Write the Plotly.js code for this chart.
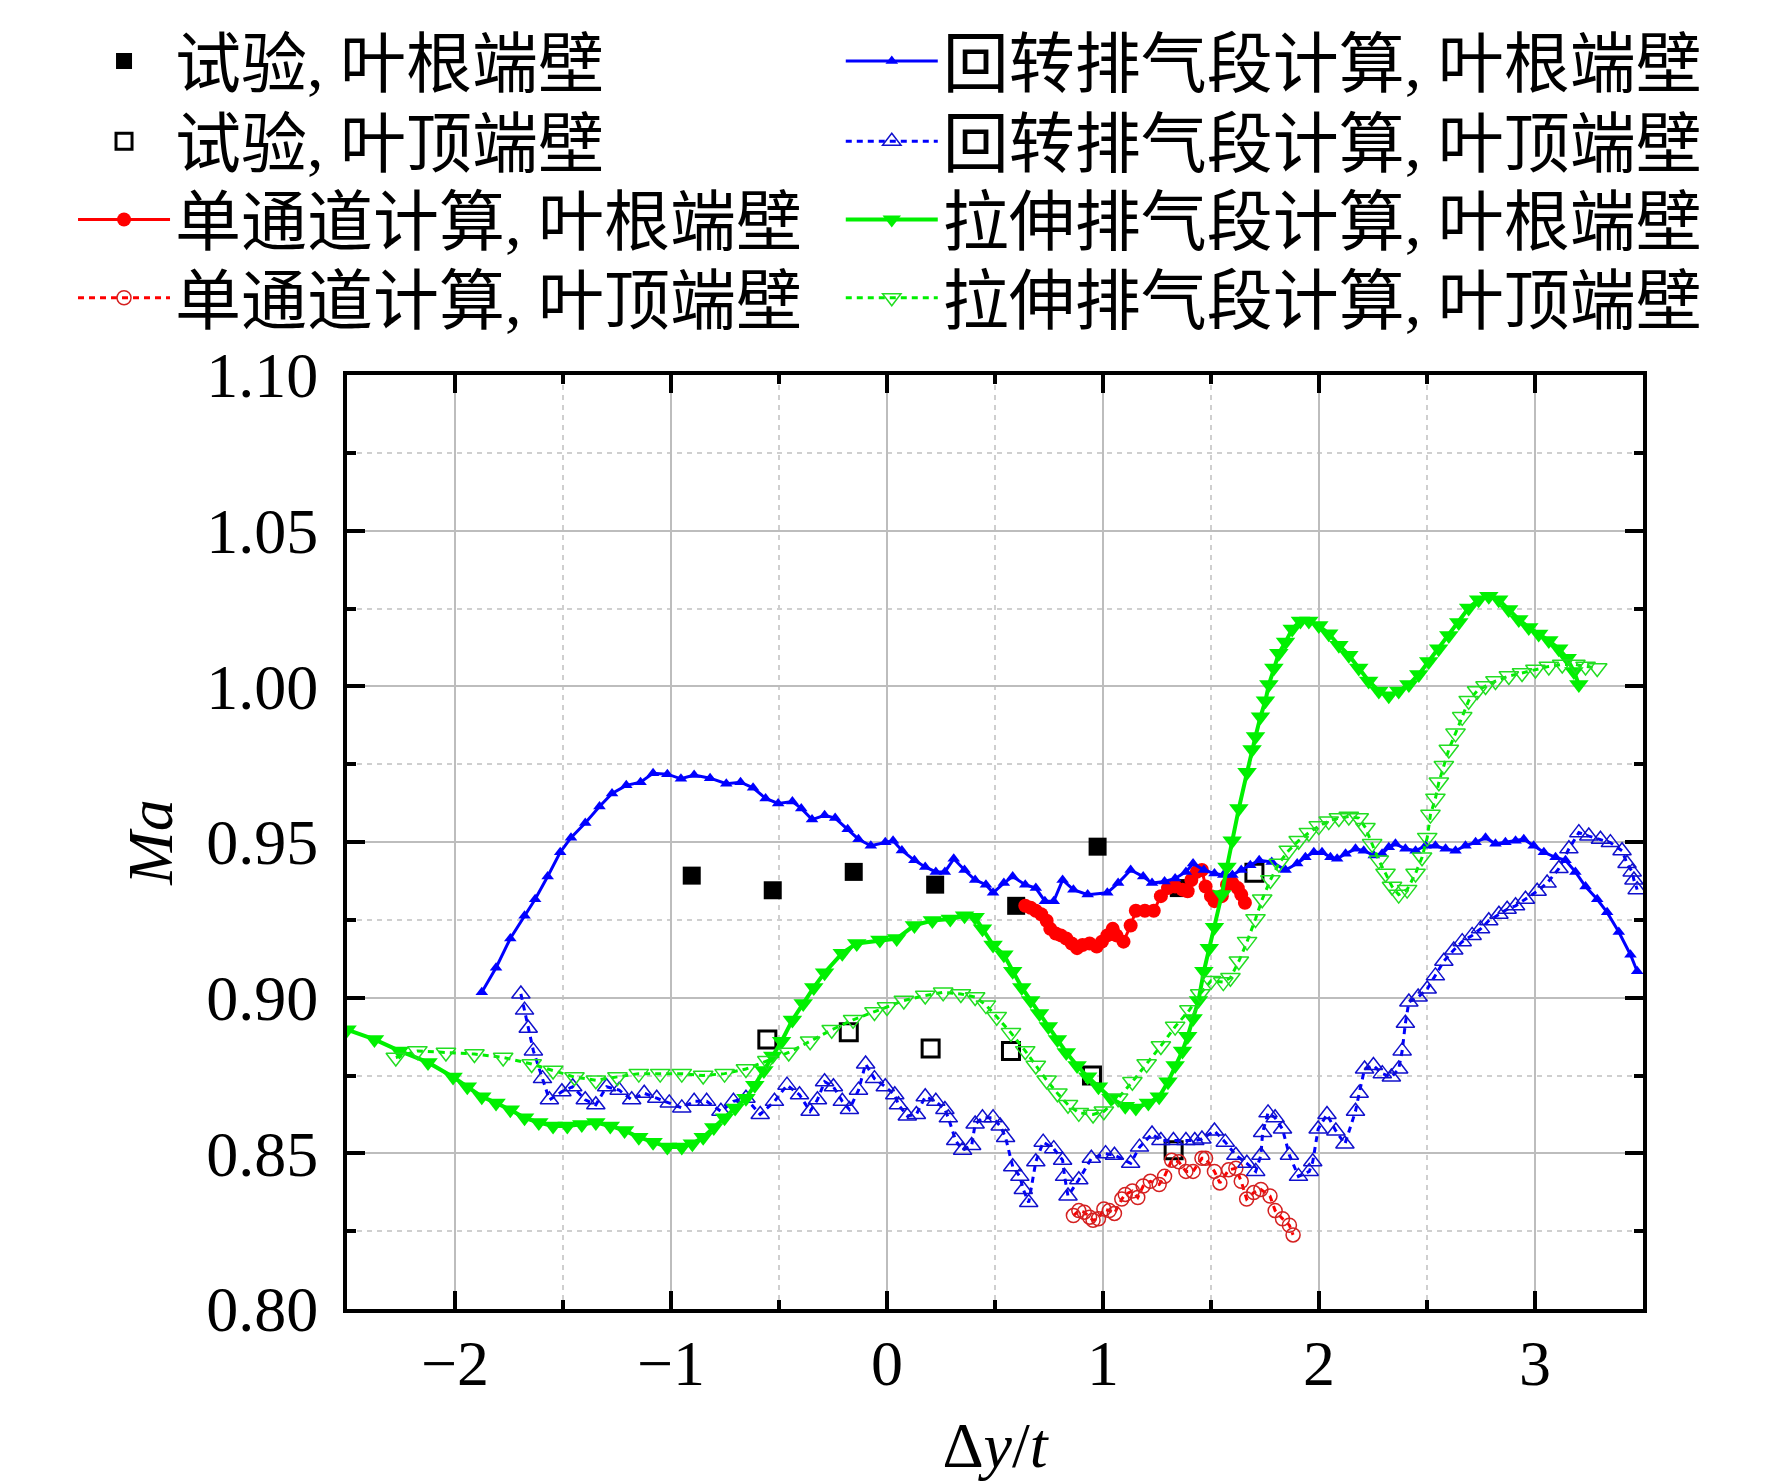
<!DOCTYPE html>
<html>
<head>
<meta charset="utf-8">
<script src="https://cdn.plot.ly/plotly-3.0.1.min.js"></script>
<style>
  html, body { margin: 0; padding: 0; background: #fff; }
  #chart { width: 1772px; height: 1481px; }
</style>
</head>
<body>
<div id="chart"></div>
<script>
// 试验数据
const expRootX = [-0.904, -0.529, -0.154, 0.223, 0.598, 0.975, 1.351];
const expRootY = [0.9392, 0.9345, 0.9404, 0.9363, 0.9295, 0.9485, 0.9352];
const expTipX = [-0.554, -0.177, 0.202, 0.574, 0.949, 1.327, 1.701];
const expTipY = [0.8866, 0.8889, 0.8837, 0.8829, 0.8750, 0.8510, 0.9401];

// 单通道计算
const singleRootX = [0.640, 0.665, 0.689, 0.714, 0.739, 0.756, 0.781, 0.805, 0.830, 0.855,
  0.880, 0.905, 0.938, 0.971, 0.995, 1.020, 1.045, 1.062, 1.095, 1.128,
  1.152, 1.194, 1.235, 1.268, 1.301, 1.334, 1.368, 1.392, 1.409, 1.434,
  1.458, 1.475, 1.500, 1.516, 1.550, 1.574, 1.599, 1.624, 1.640, 1.657];
const singleRootY = [0.9295, 0.9289, 0.9279, 0.9268, 0.9247, 0.9221, 0.9206, 0.9200, 0.9190, 0.9174,
  0.9159, 0.9169, 0.9174, 0.9164, 0.9180, 0.9200, 0.9221, 0.9200, 0.9180, 0.9232,
  0.9279, 0.9279, 0.9279, 0.9326, 0.9352, 0.9357, 0.9347, 0.9342, 0.9378, 0.9404,
  0.9410, 0.9357, 0.9326, 0.9310, 0.9326, 0.9363, 0.9368, 0.9352, 0.9331, 0.9305];
const singleTipX = [0.863, 0.888, 0.913, 0.938, 0.954, 0.979, 1.004, 1.029, 1.053, 1.087,
  1.103, 1.136, 1.161, 1.186, 1.219, 1.260, 1.285, 1.318, 1.351, 1.384,
  1.417, 1.458, 1.475, 1.516, 1.541, 1.582, 1.615, 1.640, 1.665, 1.698,
  1.731, 1.773, 1.797, 1.831, 1.863, 1.880];
const singleTipY = [0.8300, 0.8316, 0.8311, 0.8295, 0.8285, 0.8290, 0.8321, 0.8316, 0.8307, 0.8353,
  0.8368, 0.8379, 0.8358, 0.8395, 0.8410, 0.8400, 0.8426, 0.8478, 0.8473, 0.8442,
  0.8442, 0.8484, 0.8484, 0.8442, 0.8405, 0.8447, 0.8452, 0.8410, 0.8353, 0.8374,
  0.8384, 0.8363, 0.8316, 0.8290, 0.8269, 0.8238];

// 回转排气段计算
const rotRootX = [-1.876, -1.810, -1.744, -1.678, -1.629, -1.571, -1.513, -1.463, -1.397, -1.331,
  -1.273, -1.207, -1.141, -1.083, -1.017, -0.954, -0.893, -0.819, -0.744, -0.678,
  -0.620, -0.562, -0.504, -0.438, -0.397, -0.347, -0.289, -0.240, -0.182, -0.132,
  -0.075, -0.008, 0.028, 0.069, 0.127, 0.177, 0.226, 0.268, 0.309, 0.359,
  0.408, 0.458, 0.491, 0.541, 0.582, 0.640, 0.689, 0.731, 0.772, 0.813,
  0.863, 0.929, 1.020, 1.070, 1.128, 1.186, 1.227, 1.285, 1.334, 1.384,
  1.417, 1.467, 1.516, 1.557, 1.599, 1.640, 1.682, 1.723, 1.781, 1.845,
  1.899, 1.937, 1.976, 2.014, 2.053, 2.084, 2.123, 2.169, 2.207, 2.254,
  2.292, 2.323, 2.354, 2.400, 2.447, 2.493, 2.539, 2.586, 2.632, 2.678,
  2.725, 2.771, 2.817, 2.863, 2.910, 2.948, 2.994, 3.041, 3.095, 3.141,
  3.187, 3.234, 3.288, 3.334, 3.388, 3.442, 3.473];
const rotRootY = [0.9017, 0.9096, 0.9190, 0.9263, 0.9316, 0.9389, 0.9467, 0.9514, 0.9561, 0.9614,
  0.9656, 0.9682, 0.9692, 0.9721, 0.9718, 0.9703, 0.9715, 0.9705, 0.9687, 0.9692,
  0.9674, 0.9640, 0.9624, 0.9630, 0.9608, 0.9572, 0.9586, 0.9577, 0.9541, 0.9509,
  0.9488, 0.9499, 0.9504, 0.9473, 0.9441, 0.9420, 0.9404, 0.9404, 0.9446, 0.9410,
  0.9378, 0.9363, 0.9337, 0.9368, 0.9389, 0.9363, 0.9352, 0.9310, 0.9310, 0.9378,
  0.9347, 0.9331, 0.9337, 0.9368, 0.9410, 0.9389, 0.9368, 0.9373, 0.9383, 0.9404,
  0.9431, 0.9410, 0.9399, 0.9394, 0.9394, 0.9410, 0.9425, 0.9441, 0.9436, 0.9410,
  0.9431, 0.9451, 0.9467, 0.9467, 0.9451, 0.9446, 0.9462, 0.9478, 0.9472, 0.9457,
  0.9462, 0.9483, 0.9494, 0.9478, 0.9472, 0.9488, 0.9488, 0.9478, 0.9472, 0.9488,
  0.9499, 0.9514, 0.9494, 0.9499, 0.9504, 0.9509, 0.9488, 0.9467, 0.9451, 0.9441,
  0.9404, 0.9357, 0.9316, 0.9274, 0.9211, 0.9138, 0.9085];
const rotTipX = [-1.695, -1.678, -1.661, -1.637, -1.595, -1.563, -1.505, -1.455, -1.397, -1.348,
  -1.298, -1.240, -1.182, -1.124, -1.066, -1.008, -0.950, -0.893, -0.835, -0.769,
  -0.711, -0.653, -0.587, -0.521, -0.463, -0.405, -0.356, -0.322, -0.289, -0.248,
  -0.207, -0.174, -0.132, -0.099, -0.058, -0.008, 0.036, 0.053, 0.094, 0.136,
  0.177, 0.226, 0.268, 0.284, 0.318, 0.350, 0.392, 0.408, 0.442, 0.491,
  0.524, 0.549, 0.582, 0.615, 0.631, 0.656, 0.689, 0.723, 0.772, 0.813,
  0.822, 0.838, 0.888, 0.946, 1.012, 1.053, 1.128, 1.169, 1.227, 1.268,
  1.326, 1.384, 1.425, 1.458, 1.516, 1.566, 1.615, 1.666, 1.707, 1.731,
  1.739, 1.764, 1.797, 1.831, 1.863, 1.905, 1.955, 1.971, 1.996, 2.037,
  2.078, 2.120, 2.169, 2.186, 2.211, 2.252, 2.293, 2.335, 2.369, 2.385,
  2.400, 2.416, 2.459, 2.501, 2.539, 2.578, 2.624, 2.663, 2.709, 2.748,
  2.786, 2.833, 2.871, 2.910, 2.956, 3.010, 3.056, 3.111, 3.157, 3.203,
  3.249, 3.303, 3.349, 3.403, 3.426, 3.450, 3.458, 3.473];
const rotTipY = [0.9012, 0.8960, 0.8902, 0.8829, 0.8740, 0.8672, 0.8698, 0.8714, 0.8672, 0.8656,
  0.8714, 0.8703, 0.8672, 0.8693, 0.8677, 0.8662, 0.8646, 0.8667, 0.8667, 0.8635,
  0.8667, 0.8677, 0.8625, 0.8667, 0.8719, 0.8688, 0.8635, 0.8672, 0.8730, 0.8714,
  0.8667, 0.8641, 0.8703, 0.8787, 0.8740, 0.8714, 0.8688, 0.8656, 0.8620, 0.8625,
  0.8682, 0.8667, 0.8641, 0.8614, 0.8541, 0.8510, 0.8525, 0.8594, 0.8614, 0.8614,
  0.8588, 0.8551, 0.8457, 0.8426, 0.8384, 0.8342, 0.8473, 0.8536, 0.8515, 0.8478,
  0.8426, 0.8363, 0.8415, 0.8484, 0.8499, 0.8494, 0.8468, 0.8520, 0.8562, 0.8541,
  0.8541, 0.8541, 0.8541, 0.8546, 0.8572, 0.8536, 0.8494, 0.8468, 0.8442, 0.8494,
  0.8567, 0.8630, 0.8614, 0.8578, 0.8494, 0.8426, 0.8442, 0.8473, 0.8578, 0.8625,
  0.8572, 0.8530, 0.8635, 0.8693, 0.8771, 0.8782, 0.8756, 0.8745, 0.8771, 0.8829,
  0.8918, 0.8986, 0.9002, 0.9028, 0.9070, 0.9117, 0.9153, 0.9180, 0.9200, 0.9221,
  0.9247, 0.9268, 0.9284, 0.9295, 0.9316, 0.9342, 0.9368, 0.9415, 0.9478, 0.9530,
  0.9519, 0.9509, 0.9498, 0.9472, 0.9431, 0.9404, 0.9378, 0.9347];

// 拉伸排气段计算
const strRootX = [-2.500, -2.373, -2.257, -2.125, -2.009, -1.943, -1.876, -1.810, -1.744, -1.678,
  -1.612, -1.546, -1.480, -1.413, -1.348, -1.281, -1.215, -1.149, -1.083, -1.017,
  -0.950, -0.901, -0.851, -0.802, -0.752, -0.703, -0.653, -0.612, -0.570, -0.529,
  -0.488, -0.438, -0.388, -0.339, -0.289, -0.207, -0.140, -0.033, 0.045, 0.127,
  0.210, 0.293, 0.359, 0.408, 0.442, 0.491, 0.541, 0.582, 0.624, 0.665,
  0.706, 0.747, 0.789, 0.830, 0.880, 0.929, 0.979, 1.037, 1.103, 1.152,
  1.210, 1.260, 1.301, 1.334, 1.368, 1.392, 1.417, 1.442, 1.467, 1.492,
  1.516, 1.550, 1.574, 1.598, 1.629, 1.667, 1.690, 1.706, 1.729, 1.752,
  1.768, 1.791, 1.814, 1.845, 1.876, 1.914, 1.953, 1.999, 2.045, 2.092,
  2.138, 2.184, 2.230, 2.277, 2.323, 2.369, 2.416, 2.462, 2.508, 2.554,
  2.601, 2.647, 2.693, 2.739, 2.786, 2.832, 2.878, 2.925, 2.971, 3.017,
  3.064, 3.110, 3.149, 3.180, 3.203];
const strRootY = [0.8897, 0.8866, 0.8829, 0.8792, 0.8745, 0.8714, 0.8682, 0.8662, 0.8640, 0.8614,
  0.8599, 0.8588, 0.8588, 0.8593, 0.8599, 0.8588, 0.8573, 0.8552, 0.8536, 0.8520,
  0.8520, 0.8531, 0.8552, 0.8583, 0.8614, 0.8646, 0.8677, 0.8719, 0.8766, 0.8813,
  0.8860, 0.8928, 0.8981, 0.9033, 0.9080, 0.9143, 0.9174, 0.9185, 0.9190, 0.9232,
  0.9248, 0.9253, 0.9263, 0.9258, 0.9221, 0.9169, 0.9138, 0.9085, 0.9033, 0.8991,
  0.8949, 0.8907, 0.8866, 0.8824, 0.8782, 0.8746, 0.8714, 0.8677, 0.8651, 0.8646,
  0.8662, 0.8682, 0.8730, 0.8782, 0.8829, 0.8876, 0.8933, 0.8991, 0.9085, 0.9159,
  0.9226, 0.9331, 0.9420, 0.9504, 0.9608, 0.9724, 0.9797, 0.9839, 0.9902, 0.9954,
  1.0006, 1.0059, 1.0106, 1.0142, 1.0184, 1.0210, 1.0210, 1.0195, 1.0169, 1.0132,
  1.0100, 1.0059, 1.0017, 0.9985, 0.9970, 0.9985, 1.0006, 1.0038, 1.0080, 1.0121,
  1.0163, 1.0205, 1.0252, 1.0278, 1.0289, 1.0278, 1.0247, 1.0215, 1.0189, 1.0168,
  1.0147, 1.0121, 1.0090, 1.0048, 1.0006];
const strTipX = [-2.274, -2.174, -2.042, -1.910, -1.777, -1.645, -1.546, -1.447, -1.348, -1.248,
  -1.149, -1.050, -0.950, -0.851, -0.752, -0.653, -0.554, -0.455, -0.356, -0.256,
  -0.157, -0.058, 0.000, 0.078, 0.177, 0.260, 0.342, 0.408, 0.458, 0.508,
  0.574, 0.640, 0.689, 0.739, 0.789, 0.838, 0.888, 0.954, 1.004, 1.070,
  1.136, 1.202, 1.268, 1.334, 1.400, 1.450, 1.500, 1.557, 1.590, 1.629,
  1.667, 1.706, 1.737, 1.775, 1.814, 1.860, 1.906, 1.953, 1.999, 2.045,
  2.092, 2.138, 2.184, 2.215, 2.246, 2.277, 2.308, 2.338, 2.369, 2.408,
  2.447, 2.477, 2.501, 2.516, 2.539, 2.555, 2.578, 2.601, 2.632, 2.663,
  2.693, 2.732, 2.771, 2.817, 2.879, 2.940, 3.002, 3.064, 3.126, 3.187,
  3.234, 3.288];
const strTipY = [0.8808, 0.8829, 0.8824, 0.8819, 0.8808, 0.8787, 0.8766, 0.8745, 0.8735, 0.8745,
  0.8756, 0.8756, 0.8756, 0.8750, 0.8756, 0.8771, 0.8797, 0.8824, 0.8860, 0.8897,
  0.8929, 0.8954, 0.8970, 0.8991, 0.9007, 0.9017, 0.9012, 0.9002, 0.8976, 0.8939,
  0.8887, 0.8829, 0.8782, 0.8735, 0.8693, 0.8656, 0.8630, 0.8625, 0.8635, 0.8677,
  0.8730, 0.8787, 0.8845, 0.8907, 0.8960, 0.9012, 0.9054, 0.9050, 0.9064, 0.9117,
  0.9180, 0.9253, 0.9316, 0.9378, 0.9431, 0.9473, 0.9504, 0.9530, 0.9551, 0.9567,
  0.9577, 0.9582, 0.9577, 0.9546, 0.9494, 0.9441, 0.9399, 0.9357, 0.9331, 0.9347,
  0.9399, 0.9451, 0.9514, 0.9588, 0.9640, 0.9692, 0.9745, 0.9797, 0.9849, 0.9902,
  0.9954, 0.9985, 1.0001, 1.0017, 1.0033, 1.0043, 1.0054, 1.0064, 1.0070, 1.0070,
  1.0064, 1.0059];

const seriesNames = [
  '试验, 叶根端壁', '试验, 叶顶端壁',
  '单通道计算, 叶根端壁', '单通道计算, 叶顶端壁',
  '回转排气段计算, 叶根端壁', '回转排气段计算, 叶顶端壁',
  '拉伸排气段计算, 叶根端壁', '拉伸排气段计算, 叶顶端壁'
];

const serif = 'Liberation Serif, "Times New Roman", "Noto Sans CJK SC", serif';
const BLUE = '#0000ff';
const GREEN = '#00f000';
const RED = '#ff0000';
const DOTS = '6px,5px';

const traces = [
  {
    x: expRootX, y: expRootY, name: seriesNames[0], legend: 'legend',
    type: 'scatter', mode: 'markers',
    marker: { symbol: 'square', size: 18, color: '#000' }
  },
  {
    x: expTipX, y: expTipY, name: seriesNames[1], legend: 'legend2',
    type: 'scatter', mode: 'markers',
    marker: { symbol: 'square-open', size: 17, color: '#000', line: { width: 3 } }
  },
  {
    x: singleRootX, y: singleRootY, name: seriesNames[2], legend: 'legend3',
    type: 'scatter', mode: 'lines+markers',
    line: { color: RED, width: 3 },
    marker: { symbol: 'circle', size: 14, color: RED }
  },
  {
    x: singleTipX, y: singleTipY, name: seriesNames[3], legend: 'legend4',
    type: 'scatter', mode: 'lines+markers',
    line: { color: RED, width: 3, dash: DOTS },
    marker: { symbol: 'circle-open', size: 14, color: '#d42020', line: { width: 1.5 } }
  },
  {
    x: rotRootX, y: rotRootY, name: seriesNames[4], legend: 'legend5',
    type: 'scatter', mode: 'lines+markers',
    line: { color: BLUE, width: 3 },
    marker: { symbol: 'triangle-up', size: 11, color: BLUE }
  },
  {
    x: rotTipX, y: rotTipY, name: seriesNames[5], legend: 'legend6',
    type: 'scatter', mode: 'lines+markers',
    line: { color: BLUE, width: 3, dash: DOTS },
    marker: { symbol: 'triangle-up-open', size: 16, color: '#1010cc', line: { width: 1.5 } }
  },
  {
    x: strRootX, y: strRootY, name: seriesNames[6], legend: 'legend7',
    type: 'scatter', mode: 'lines+markers',
    line: { color: GREEN, width: 4 },
    marker: { symbol: 'triangle-down', size: 17, color: GREEN }
  },
  {
    x: strTipX, y: strTipY, name: seriesNames[7], legend: 'legend8',
    type: 'scatter', mode: 'lines+markers',
    line: { color: GREEN, width: 3, dash: DOTS },
    marker: { symbol: 'triangle-down-open', size: 17, color: '#22dd22', line: { width: 1.5 } }
  }
];

function axisBase() {
  return {
    showline: true,
    linecolor: '#000',
    linewidth: 4,
    mirror: 'allticks',
    ticks: 'inside',
    ticklen: 18,
    tickwidth: 4,
    tickcolor: '#000',
    showgrid: true,
    gridcolor: '#bdbdbd',
    gridwidth: 2,
    zeroline: false,
    tickfont: { family: serif, size: 64, color: '#000' }
  };
}

// 图例：两列、每列四行，每项单独一个图例框便于定位
const legendColX = [-0.2114, 0.3810];
const legendRowY = [1.336, 1.2502, 1.1664, 1.0826];

function legendBox(col, row) {
  return {
    x: legendColX[col], y: legendRowY[row], xanchor: 'left', yanchor: 'middle',
    font: { family: serif, size: 66, color: '#000' },
    bgcolor: 'rgba(0,0,0,0)',
    borderwidth: 0,
    itemwidth: 92
  };
}

const layout = {
  width: 1772,
  height: 1481,
  paper_bgcolor: '#fff',
  plot_bgcolor: '#fff',
  font: { family: serif, color: '#000' },
  margin: { l: 347, r: 129, t: 354, b: 172 },
  xaxis: Object.assign(axisBase(), {
    range: [-2.5, 3.5],
    tick0: 0,
    dtick: 1,
    ticklabelstandoff: -5,
    minor: {
      dtick: 0.5, ticks: 'inside', ticklen: 9, tickwidth: 4, tickcolor: '#000',
      showgrid: true, gridcolor: '#cfcfcf', gridwidth: 2, griddash: '5px,5px'
    },
    title: { text: 'Δ<i>y</i>/<i>t</i>', font: { family: serif, size: 64 }, standoff: 26 }
  }),
  yaxis: Object.assign(axisBase(), {
    range: [0.8, 1.1],
    tick0: 0.8,
    dtick: 0.05,
    tickformat: '.2f',
    ticklabelstandoff: 12,
    minor: {
      dtick: 0.025, ticks: 'inside', ticklen: 9, tickwidth: 4, tickcolor: '#000',
      showgrid: true, gridcolor: '#cfcfcf', gridwidth: 2, griddash: '5px,5px'
    },
    title: { text: '<i>Ma</i>', font: { family: serif, size: 64 }, standoff: 14 }
  }),
  legend: legendBox(0, 0),
  legend2: legendBox(0, 1),
  legend3: legendBox(0, 2),
  legend4: legendBox(0, 3),
  legend5: legendBox(1, 0),
  legend6: legendBox(1, 1),
  legend7: legendBox(1, 2),
  legend8: legendBox(1, 3),
  showlegend: true
};

Plotly.newPlot('chart', traces, layout, { displayModeBar: false, staticPlot: true });
</script>
</body>
</html>
